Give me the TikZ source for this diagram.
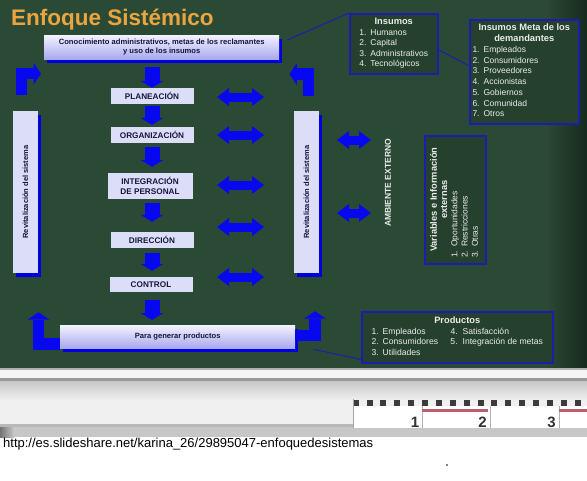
\documentclass[tikz,border=0pt]{standalone}
\usepackage{fontspec}
\setmainfont{Liberation Sans}
\usetikzlibrary{arrows.meta,calc,shadows}
\definecolor{board}{RGB}{43,74,53}
\definecolor{boardR}{RGB}{22,42,30}
\definecolor{ablue}{RGB}{8,8,240}
\definecolor{shblue}{RGB}{0,0,225}
\definecolor{lav}{RGB}{220,222,248}
\definecolor{lavtop}{RGB}{242,242,255}
\definecolor{lavbot}{RGB}{168,168,238}
\definecolor{ink}{RGB}{22,22,60}
\definecolor{titleor}{RGB}{233,165,64}
\definecolor{infofill}{RGB}{37,65,46}
\definecolor{infoline}{RGB}{28,28,175}
\definecolor{chalk}{RGB}{236,236,236}
\definecolor{rulerdark}{RGB}{60,60,60}
\definecolor{rulerred}{RGB}{185,95,110}
\tikzset{
  bshadow/.style={drop shadow={shadow xshift=3pt,shadow yshift=-4pt,fill=shblue,opacity=1}},
  stepbox/.style={fill=lav,text=ink,inner sep=0pt,align=center,minimum width=83pt,minimum height=16pt,font=\fontsize{8.2}{9.6}\selectfont\bfseries},
  bigbox/.style={top color=lavtop,bottom color=lavbot,text=ink,inner sep=0pt,align=center,bshadow,font=\fontsize{7.6}{9}\selectfont\bfseries},
  sidebar/.style={fill=lav,bshadow,minimum width=25pt,minimum height=162pt,inner sep=0pt},
  sidetext/.style={rotate=90,text=ink,font=\fontsize{7.5}{9}\selectfont\bfseries,inner sep=0pt},
  infobox/.style={draw=infoline,line width=1.5pt,fill=infofill,text=chalk,inner sep=0pt},
  infotext/.style={text=chalk,inner sep=0pt,font=\fontsize{8.5}{10.5}\selectfont},
  thinline/.style={draw=infoline,line width=1pt},
  downarr/.style={draw=ablue,line width=15pt,-{Triangle[width=23pt,length=7pt,line width=0pt]}},
  dblarr/.style={draw=ablue,line width=9pt,{Triangle[width=18pt,length=12pt,line width=0pt]}-{Triangle[width=18pt,length=12pt,line width=0pt]}},
  larr/.style={draw=ablue,line width=11.5pt,line join=miter,-{Triangle[width=22pt,length=7.5pt,line width=0pt]}},
}
\newcommand{\ttl}[1]{{\fontsize{9.3}{10}\selectfont\bfseries #1}}
\begin{document}
\begin{tikzpicture}[x=1pt,y=-1pt]
\useasboundingbox (0,0) rectangle (587,480);
% board
\fill[board] (0,0) rectangle (587,368);
\shade[left color=board,right color=boardR] (545,0) rectangle (587,368);
% frame / tray
\fill[black!30] (0,368) rectangle (587,370);
\fill[black!4] (0,370) rectangle (587,378);
\fill[black!40] (0,378) rectangle (587,381);
\shade[top color=black!22,bottom color=black!6] (0,381) rectangle (587,400);
\fill[black!6] (0,400) rectangle (587,424);
\fill[black!28] (0,424) rectangle (587,427);
\fill[black!22] (0,427) rectangle (587,437);
\shade[left color=black!55,right color=black!22] (0,427) rectangle (14,437);
% ruler
\foreach \i in {0,...,17} \fill[rulerdark] ({352.7+13.87*\i},400) rectangle ++(6,6);
\fill[white] (353,406) rectangle (587,428);
\draw[black!35,line width=0.6pt] (353,399) -- (353,428);
\foreach \xx in {422,490,559} \draw[black!30,line width=0.6pt] (\xx,406) -- (\xx,428);
\fill[rulerred] (422,409) rectangle (488,411.5);
\fill[rulerred] (559,409) rectangle (587,411.5);
\foreach \xx/\n in {419.5/1,487/2,556/3}
  \node[anchor=base east,inner sep=0pt,text=black!80,font=\fontsize{15}{15}\selectfont\bfseries] at (\xx,427) {\n};
% url
\node[anchor=base west,inner sep=0pt,text=black,font=\fontsize{13}{15}\selectfont] (url) at (3,447) {http://es.slideshare.net/karina\_26/29895047-enfoquedesistemas};
\fill[black] (447,465) circle (0.8);
% title
\node[anchor=base west,inner sep=0pt,text=titleor,font=\fontsize{22.5}{27}\selectfont\bfseries] (title) at (11,25) {Enfoque Sistémico};
% main boxes
\node[bigbox,anchor=north west,minimum width=235pt,minimum height=24pt] (topb) at (44,35) {Conocimiento administrativos, metas de los reclamantes\\y uso de los insumos};
\node[stepbox] (plan) at (152,96) {PLANEACIÓN};
\node[stepbox] (org) at (152,135) {ORGANIZACIÓN};
\node[stepbox,minimum width=85pt,minimum height=26pt] (integ) at (150,186) {INTEGRACIÓN\\DE PERSONAL};
\node[stepbox] (dir) at (152,240) {DIRECCIÓN};
\node[stepbox,minimum height=15pt] (ctrl) at (151,284.5) {CONTROL};
\node[bigbox,anchor=north west,minimum width=235pt,minimum height=23pt] (para) at (60,325) {Para generar productos};
\node[sidebar] (sideL) at (25.5,192) {};
\node[sidetext] (sideLt) at (sideL) {Revitalización del sistema};
\node[sidebar] (sideR) at (306.5,192) {};
\node[sidetext] (sideRt) at (sideR) {Revitalización del sistema};
% down arrows
\draw[downarr] ($(topb.south -| plan.north)+(0,8)$) -- (plan.north);
\draw[downarr] ($(plan.south)+(0,2)$) -- ($(org.north)+(0,-2)$);
\draw[downarr] ($(org.south)+(0,4)$) -- ($(integ.north -| org.south)+(0,-6)$);
\draw[downarr] ($(integ.south -| dir.north)+(0,4)$) -- ($(dir.north)+(0,-10)$);
\draw[downarr] ($(dir.south)+(0,5)$) -- ($(ctrl.north -| dir.south)+(0,-6)$);
\draw[downarr] ($(ctrl.south -| dir.south)+(0,8)$) -- ($(para.north -| dir.south)+(0,-5)$);
% corner arrows
\draw[larr] ($(sideL.north)+(-4,-16)$) |- ($(topb.west)+(-3,26.5)$);
\draw[larr] ($(sideR.north)+(2,-15)$) |- ($(topb.east)+(10,27)$);
\draw[larr] ($(para.west)+(0,7.5)$) -| ($(sideL.south)+(13,39)$);
\draw[larr] ($(para.east)+(0,-1)$) -| ($(sideR.south)+(8.5,38)$);
% double arrows
\foreach \i/\yy in {1/97,2/135,3/185,4/227,5/277} {
  \coordinate (dl\i) at (217,\yy);
  \coordinate (dr\i) at (264,\yy);
  \draw[dblarr] (dl\i) -- (dr\i);
}
\foreach \i/\yy in {1/140,2/213} {
  \coordinate (el\i) at (337,\yy);
  \coordinate (er\i) at (371,\yy);
  \draw[dblarr] (el\i) -- (er\i);
}
\node[rotate=90,inner sep=0pt,text=chalk,font=\fontsize{8.5}{9}\selectfont\bfseries] (amb) at (388,183) {AMBIENTE EXTERNO};
% info boxes
\node[infobox,anchor=north west,minimum width=88pt,minimum height=60pt,infotext] (ins) at (349,13)
  {\begin{tabular}{@{}l@{\hspace{4pt}}l@{}}\multicolumn{2}{c}{\ttl{Insumos}}\\1.&Humanos\\2.&Capital\\3.&Administrativos\\4.&Tecnológicos\end{tabular}};
\node[infobox,anchor=north west,minimum width=109pt,minimum height=104pt,infotext,font=\fontsize{8.5}{10.75}\selectfont] (meta) at (469,19)
  {\begin{tabular}{@{}l@{\hspace{4pt}}l@{}}\multicolumn{2}{c}{\ttl{Insumos Meta de los}}\\\multicolumn{2}{c}{\ttl{demandantes}}\\1.&Empleados\\2.&Consumidores\\3.&Proveedores\\4.&Accionistas\\5.&Gobiernos\\6.&Comunidad\\7.&Otros\end{tabular}};
\node[infobox,anchor=north west,minimum width=61pt,minimum height=128pt] (vars) at (424,135) {};
\node[infotext,rotate=90,font=\fontsize{8.5}{10.25}\selectfont] (varst) at (vars.center)
  {\begin{tabular}{@{}l@{}}\multicolumn{1}{c}{\ttl{Variables e Información}}\\\multicolumn{1}{c}{\ttl{externas}}\\1.\hspace{4pt}Oportunidades\\2.\hspace{4pt}Restricciones\\3.\hspace{4pt}Otras\end{tabular}};
\node[infobox,anchor=north west,minimum width=191pt,minimum height=51pt,infotext,font=\fontsize{8.6}{10.5}\selectfont] (prod) at (361,311)
  {\begin{tabular}{@{}l@{}}\multicolumn{1}{c}{\ttl{Productos}}\\\makebox[79pt][l]{1.\hspace{4pt}Empleados}4.\hspace{5pt}Satisfacción\\\makebox[79pt][l]{2.\hspace{4pt}Consumidores}5.\hspace{5pt}Integración de metas\\3.\hspace{4pt}Utilidades\end{tabular}};
% thin connectors
\draw[thinline] ($(topb.north east)+(8,5)$) -- (ins.north west);
\draw[thinline] ($(ins.east)+(0,6)$) -- ($(meta.west)+(0,-6)$);
\draw[thinline] ($(para.east)+(18,12.5)$) -- ($(prod.south west)+(0,-4)$);
\end{tikzpicture}
\end{document}
